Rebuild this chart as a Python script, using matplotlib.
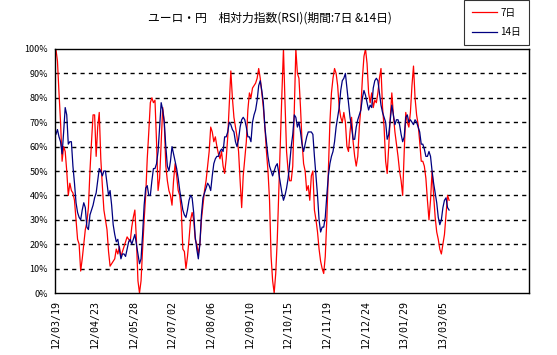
import numpy as np
import matplotlib
matplotlib.use('Agg')
import matplotlib.pyplot as plt
from matplotlib.lines import Line2D

plt.rcParams['font.family'] = ['Noto Sans CJK JP', 'DejaVu Sans']

# data: RSI (%), one value per trading day from 12/03/19
rsi7 = [100, 95, 82, 70, 54, 60, 58, 50, 40, 45, 42, 41, 38, 30, 22, 20, 9, 14, 20, 26,
        29, 35, 50, 62, 73, 73, 56, 68, 74, 55, 44, 34, 30, 26, 17, 11, 12, 13, 14, 18,
        16, 19, 15, 17, 19, 21, 23, 22, 21, 27, 31, 34, 22, 5, 0, 5, 18, 30, 40, 55,
        66, 78, 80, 78, 79, 62, 42, 47, 62, 76, 70, 52, 46, 42, 40, 36, 46, 53, 48, 42,
        40, 34, 18, 17, 10, 15, 22, 30, 33, 30, 22, 20, 16, 20, 30, 36, 42, 46, 52, 58,
        68, 66, 62, 64, 60, 57, 55, 58, 52, 49, 55, 64, 78, 91, 80, 72, 68, 64, 58, 46,
        35, 48, 55, 62, 75, 82, 80, 84, 85, 86, 88, 92, 88, 82, 76, 68, 58, 50, 38, 15,
        5, 0, 8, 22, 42, 62, 82, 100, 78, 58, 50, 46, 46, 52, 75, 100, 90, 88, 76, 62,
        53, 50, 42, 44, 38, 48, 50, 34, 30, 25, 18, 13, 10, 8, 15, 30, 50, 70, 82, 88,
        92, 90, 85, 76, 72, 70, 74, 70, 60, 58, 66, 72, 62, 56, 52, 56, 68, 76, 88, 97,
        100, 94, 82, 78, 82, 76, 79, 78, 82, 88, 92, 76, 68, 54, 49, 60, 72, 82, 73, 66,
        61, 56, 50, 46, 40, 58, 74, 70, 68, 74, 85, 93, 80, 73, 69, 62, 54, 54, 52, 47,
        38, 30, 38, 50, 40, 31, 25, 22, 18, 16, 20, 24, 32, 40, 38]

rsi14 = [65, 67, 64, 62, 57, 66, 76, 73, 61, 62, 62, 52, 45, 37, 33, 31, 30, 34, 37, 35,
         27, 26, 32, 34, 36, 39, 41, 46, 51, 50, 48, 50, 50, 45, 40, 42, 36, 28, 24, 21,
         22, 18, 14, 16, 16, 15, 18, 21, 22, 20, 22, 24, 20, 16, 12, 14, 24, 36, 43, 44,
         40, 40, 46, 51, 51, 53, 58, 68, 78, 75, 70, 60, 52, 50, 54, 60, 57, 54, 51, 47,
         42, 38, 34, 32, 31, 34, 38, 40, 39, 33, 23, 18, 14, 20, 32, 39, 41, 43, 45, 44,
         42, 48, 53, 55, 56, 56, 58, 59, 58, 64, 64, 66, 70, 69, 67, 66, 62, 60, 63, 68,
         71, 72, 71, 68, 64, 64, 62, 70, 73, 75, 79, 85, 87, 83, 78, 68, 62, 56, 52, 50,
         48, 50, 52, 53, 49, 45, 41, 38, 40, 43, 47, 53, 60, 65, 73, 72, 68, 70, 66, 61,
         58, 61, 64, 66, 66, 66, 65, 56, 48, 40, 30, 25, 27, 27, 31, 40, 48, 53, 56, 58,
         62, 68, 72, 76, 83, 87, 88, 90, 84, 78, 72, 68, 63, 63, 68, 71, 73, 75, 80, 83,
         81, 78, 75, 77, 76, 84, 87, 88, 87, 82, 77, 74, 72, 70, 63, 65, 71, 77, 73, 69,
         71, 71, 69, 65, 62, 64, 72, 73, 70, 71, 70, 69, 71, 70, 68, 66, 61, 61, 59, 56,
         56, 58, 56, 50, 45, 41, 37, 31, 28, 30, 35, 38, 39, 35, 34]

tick_labels = ['12/03/19', '12/04/23', '12/05/28', '12/07/02', '12/08/06', '12/09/10',
               '12/10/15', '12/11/19', '12/12/24', '13/01/29', '13/03/05']
tick_step = 25  # trading days between labels
n_slots = 306   # category slots on the axis

days = np.arange(len(rsi7))

fig = plt.figure(figsize=(5.57, 3.55), dpi=100)
ax = fig.add_axes([0.0987, 0.1746, 0.8510, 0.6874])

ax.plot(days, rsi7, color='#ff0000', lw=0.9, label='7日')
ax.plot(days, rsi14, color='#000080', lw=0.9, label='14日')

ax.set_ylim(0, 100)
ax.set_xlim(-0.6, n_slots - 0.4)
ax.set_yticks(range(0, 101, 10))
ax.set_yticklabels([f'{v}%' for v in range(0, 101, 10)], fontsize=6.5)
ax.set_xticks(np.arange(len(tick_labels)) * tick_step)
ax.set_xticklabels(tick_labels, rotation=90, fontsize=7.2, family='DejaVu Sans Mono')
ax.tick_params(length=0, pad=5)

for v in range(10, 100, 10):
    ax.axhline(v, color='black', lw=1, ls=(0, (3, 3)), zorder=0)

for s in ax.spines.values():
    s.set_color('black')
    s.set_linewidth(1)

fig.text(0.485, 0.948, 'ユーロ・円　相対力指数(RSI)(期間:7日 &14日)',
         ha='center', va='center', fontsize=8.5)

handles = [Line2D([], [], color='#ff0000', lw=0.9), Line2D([], [], color='#000080', lw=0.9)]
leg = fig.legend(handles, ['7日', '14日'], loc='upper right',
                 bbox_to_anchor=(0.949, 1.0), borderaxespad=0, fontsize=7, frameon=True,
                 fancybox=False, handlelength=2.6, borderpad=0.8, labelspacing=1.0,
                 handletextpad=0.3)
leg.get_frame().set_edgecolor('black')
leg.get_frame().set_linewidth(0.8)

fig.savefig('out.png', dpi=100)
